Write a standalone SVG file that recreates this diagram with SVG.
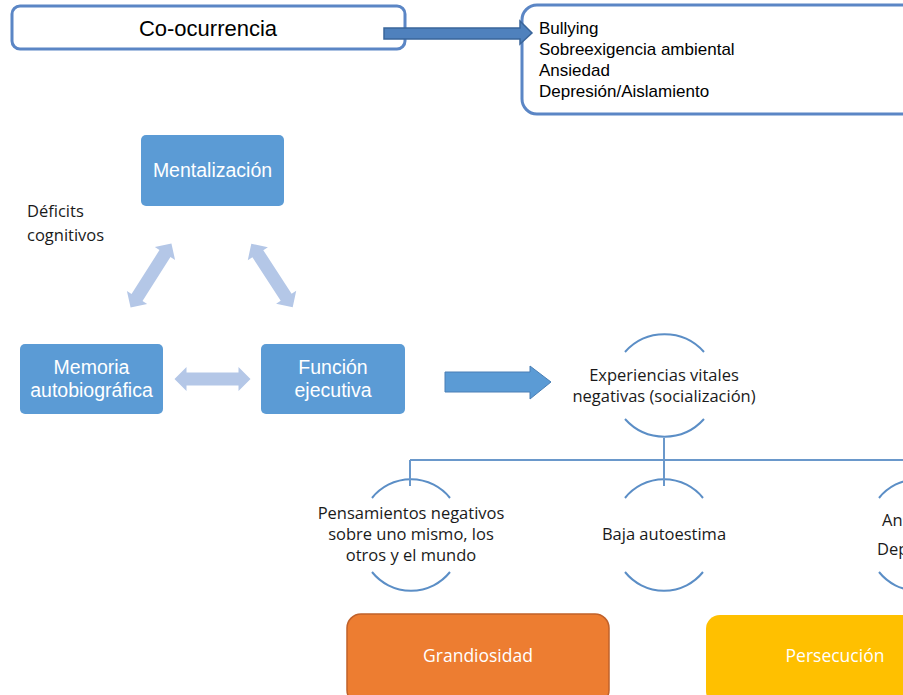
<svg xmlns="http://www.w3.org/2000/svg" width="903" height="695" viewBox="0 0 903 695">
<style>
.ob{fill:#fff;stroke:#5B86C5;stroke-width:3}
.bb{fill:#5B9BD5}
.wt{fill:#fff;font-family:"Liberation Sans",Arial,sans-serif;font-size:19.5px;text-anchor:middle}
.wo{fill:#fff;font-family:"Open Sans","Liberation Sans",sans-serif;font-size:17.5px;text-anchor:middle}
.ar{font-family:"Liberation Sans",Arial,sans-serif;fill:#000}
.ca{font-family:"Open Sans","Liberation Sans",sans-serif;font-size:16.5px;fill:#1a1a1a;text-anchor:middle}
.cs{font-family:"Open Sans","Liberation Sans",sans-serif;font-size:16.5px;fill:#1a1a1a;text-anchor:start}
.arc{fill:none;stroke:#5B8EC6;stroke-width:2}
.ln{stroke:#6A98CB;stroke-width:2;fill:none}
.la{fill:#B4C7E7}
</style>
<defs>
<path id="dbl" d="M-38,0 L-26,-12 L-26,-6.5 L26,-6.5 L26,-12 L38,0 L26,12 L26,6.5 L-26,6.5 L-26,12 Z"/>
</defs>

<g id="co-ocurrencia">
<rect class="ob" x="12" y="6" width="393" height="43" rx="8"/>
<text class="ar" x="208" y="36" font-size="22" text-anchor="middle">Co-ocurrencia</text>
</g>

<g id="factores">
<rect class="ob" x="522" y="5" width="400" height="109" rx="15"/>
<text class="ar" font-size="17"><tspan x="539" y="34">Bullying</tspan><tspan x="539" y="55">Sobreexigencia ambiental</tspan><tspan x="539" y="76">Ansiedad</tspan><tspan x="539" y="97">Depresión/Aislamiento</tspan></text>
</g>

<g id="mentalizacion">
<rect class="bb" x="141" y="135" width="143" height="71" rx="5"/>
<text class="wt" x="212.5" y="177">Mentalización</text>
</g>
<g id="memoria">
<rect class="bb" x="20" y="344" width="143" height="70" rx="5"/>
<text class="wt" x="91.5" y="374">Memoria</text>
<text class="wt" x="91.5" y="397">autobiográfica</text>
</g>
<g id="funcion">
<rect class="bb" x="261" y="344" width="144" height="70" rx="5"/>
<text class="wt" x="333" y="374">Función</text>
<text class="wt" x="333" y="397">ejecutiva</text>
</g>

<g id="deficits">
<text class="cs" x="27" y="217">Déficits</text>
<text class="cs" x="27" y="241">cognitivos</text>
</g>

<g id="experiencias">
<path class="arc" d="M625,352 A53,53 0 0 1 704,352"/>
<path class="arc" d="M625,419 A53,53 0 0 0 704,419"/>
<text class="ca" x="664" y="381" font-size="15.5">Experiencias vitales</text>
<text class="ca" x="664" y="402" font-size="15.5">negativas (socialización)</text>
</g>

<g id="pensamientos">
<path class="arc" d="M372,498 A50,50 0 0 1 450,498"/>
<path class="arc" d="M372,572 A50,50 0 0 0 450,572"/>
<text class="ca" x="411" y="519">Pensamientos negativos</text>
<text class="ca" x="411" y="540">sobre uno mismo, los</text>
<text class="ca" x="411" y="561">otros y el mundo</text>
</g>

<g id="baja">
<path class="arc" d="M625,498 A50,50 0 0 1 703,498"/>
<path class="arc" d="M625,572 A50,50 0 0 0 703,572"/>
<text class="ca" x="664" y="540">Baja autoestima</text>
</g>

<g id="ansiedad">
<path class="arc" d="M879,498 A50,50 0 0 1 957,498"/>
<path class="arc" d="M879,572 A50,50 0 0 0 957,572"/>
<text class="cs" x="882" y="526">Ansiedad</text>
<text class="cs" x="877" y="555">Depresión</text>
</g>

<g id="grandiosidad">
<rect x="347" y="614" width="262" height="90" rx="14" fill="#ED7D31" stroke="#C0612A" stroke-width="1.5"/>
<text class="wo" x="478" y="662">Grandiosidad</text>
</g>
<g id="persecucion">
<rect x="706" y="615" width="262" height="90" rx="14" fill="#FFC000"/>
<text class="wo" x="835" y="662">Persecución</text>
</g>

<g id="connectors">
<path d="M384,28 L520,28 L520,21 L532,33 L520,44 L520,39 L384,39 Z" fill="#4F81BD" stroke="#3A659A" stroke-width="1.5"/>
<use href="#dbl" class="la" transform="translate(151,275.5) rotate(-57.5)"/>
<use href="#dbl" class="la" transform="translate(272,275.5) rotate(57)"/>
<use href="#dbl" class="la" transform="translate(212.5,379)"/>
<path d="M445,372 L530,372 L530,366 L551,382 L530,399 L530,392 L445,392 Z" fill="#5B9BD5" stroke="#4A7FB5" stroke-width="1"/>
<path class="ln" d="M664,438 V460 M410,460 H903 M410,460 V486 M664,460 V486"/>
</g>
</svg>
